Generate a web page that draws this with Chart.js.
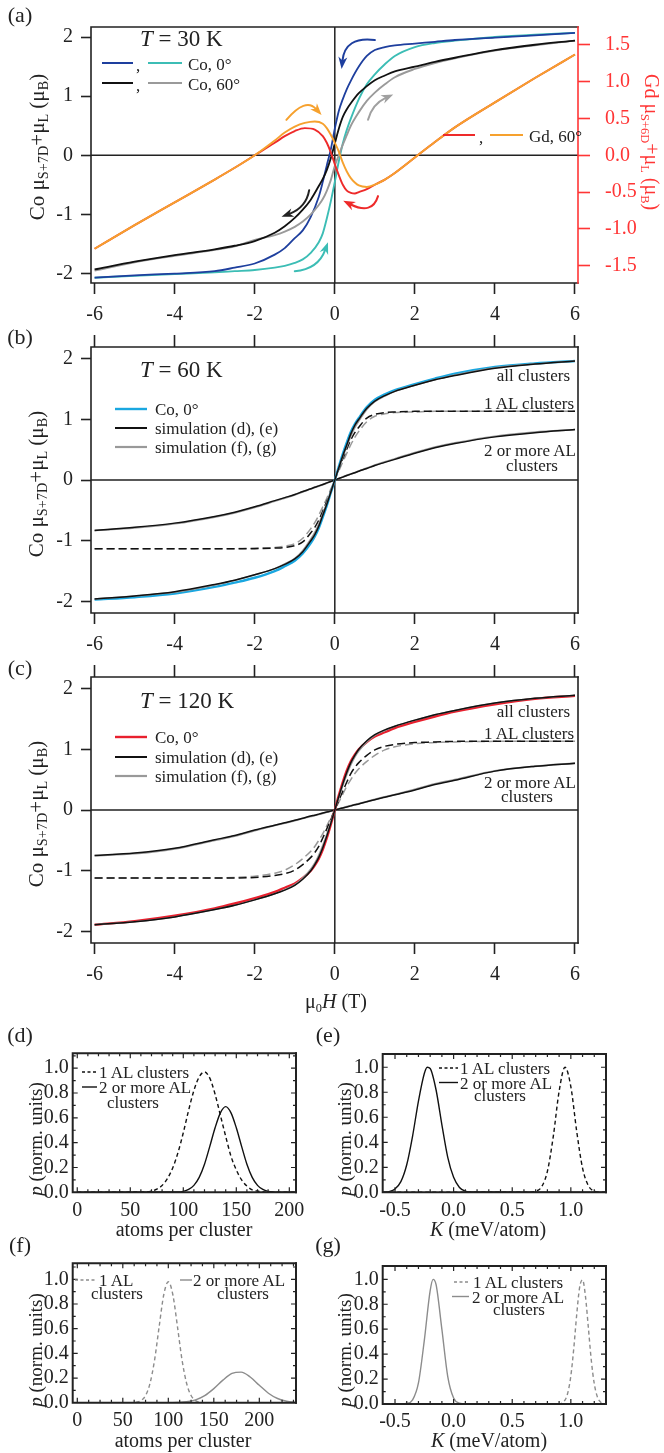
<!DOCTYPE html>
<html><head><meta charset="utf-8">
<script src="https://cdn.jsdelivr.net/npm/chart.js@4.4.1/dist/chart.umd.min.js"></script>
<style>
html,body{margin:0;padding:0;background:#fff;}
#page{position:relative;width:664px;height:1453px;overflow:hidden;font-family:'Liberation Serif','Times New Roman',serif;color:#222;background:#fff;}
#page canvas{position:absolute;left:0;top:0;}
.t{position:absolute;white-space:nowrap;line-height:1;}
.t sub{font-size:0.62em;vertical-align:-0.32em;line-height:0;}
.big sub{font-size:0.68em;}
#page svg{position:absolute;left:0;top:0;}
</style></head><body><div id="page"></div>
<script>
// ================= DATA =================
const fieldTicks=[-6,-4,-2,0,2,4,6];
const momentTicks=[-2,-1,0,1,2];
const gdTicks=[-1.5,-1,-0.5,0,0.5,1,1.5];
const pTicks=[0,0.2,0.4,0.6,0.8,1.0];
const pMinor=[0.1,0.3,0.5,0.7,0.9,1.1];
const atomTicks=[0,50,100,150,200];
const atomMinorD=[10,20,30,40,60,70,80,90,110,120,130,140,160,170,180,190];
const atomMinorF=[12.5,25,37.5,62.5,75,87.5,112.5,125,137.5,162.5,175,187.5,212.5,225,237.5];
const kTicks=[-0.5,0,0.5,1.0];
const kMinor=[-0.4,-0.3,-0.2,-0.1,0.1,0.2,0.3,0.4,0.6,0.7,0.8,0.9,1.1,1.2];

// (a) T = 30 K, Co (left axis)
const fieldA=[-6,-5,-4,-3,-2.5,-2,-1.5,-1.25,-1,-0.8,-0.6,-0.4,-0.3,-0.2,-0.1,0,0.1,0.2,0.3,0.4,0.6,0.8,1,1.25,1.5,2,2.5,3,4,5,6];
const coBlue0=[-2.07,-2.03,-2.0,-1.96,-1.9,-1.83,-1.68,-1.57,-1.4,-1.27,-1.04,-0.7,-0.45,-0.17,0.1,0.45,0.75,0.95,1.12,1.26,1.5,1.68,1.78,1.83,1.86,1.89,1.92,1.95,1.99,2.03,2.07];
const coTeal0=[-2.07,-2.04,-2.01,-1.98,-1.96,-1.94,-1.9,-1.87,-1.82,-1.76,-1.65,-1.47,-1.32,-1.07,-0.78,-0.45,-0.1,0.2,0.43,0.62,0.95,1.2,1.37,1.54,1.68,1.83,1.9,1.94,2.0,2.04,2.07];
const coBlack60=[-1.93,-1.8,-1.69,-1.59,-1.53,-1.45,-1.31,-1.2,-1.06,-0.92,-0.75,-0.52,-0.4,-0.25,-0.05,0.2,0.45,0.65,0.78,0.88,1.05,1.17,1.27,1.35,1.42,1.5,1.58,1.65,1.78,1.87,1.94];
const coGray60=[-1.95,-1.81,-1.7,-1.6,-1.54,-1.43,-1.35,-1.29,-1.21,-1.12,-1.0,-0.84,-0.74,-0.6,-0.42,-0.18,0.0,0.18,0.34,0.5,0.73,0.92,1.06,1.2,1.32,1.46,1.56,1.64,1.77,1.86,1.94];
// (a) Gd (right axis)
const fieldGd=[-6,-5,-4,-3,-2.5,-2,-1.5,-1.25,-1,-0.75,-0.5,-0.3,-0.2,-0.1,0,0.1,0.2,0.3,0.4,0.5,0.6,0.8,1,1.25,1.5,2,2.5,3,4,5,6];
const gdRed60=[-1.27,-0.95,-0.64,-0.33,-0.17,0.0,0.17,0.26,0.33,0.37,0.35,0.26,0.17,0.04,-0.12,-0.27,-0.4,-0.48,-0.51,-0.52,-0.5,-0.46,-0.4,-0.33,-0.24,-0.03,0.18,0.38,0.72,1.05,1.37];
const gdOrange60=[-1.27,-0.95,-0.64,-0.33,-0.17,0.0,0.2,0.31,0.39,0.44,0.46,0.43,0.37,0.28,0.17,0.05,-0.1,-0.22,-0.31,-0.37,-0.41,-0.43,-0.4,-0.33,-0.24,-0.03,0.18,0.38,0.72,1.05,1.37];

// (b),(c) field grid
const fieldBC=[-6,-5,-4,-3,-2.5,-2,-1.5,-1.25,-1,-0.8,-0.6,-0.5,-0.4,-0.3,-0.2,-0.1,0,0.1,0.2,0.3,0.4,0.5,0.6,0.8,1,1.25,1.5,2,2.5,3,4,5,6];
// (b) T = 60 K
const coData60K=[-1.97,-1.93,-1.87,-1.76,-1.69,-1.61,-1.5,-1.42,-1.33,-1.21,-1.04,-0.93,-0.79,-0.61,-0.42,-0.21,0,0.22,0.43,0.62,0.79,0.92,1.02,1.2,1.32,1.41,1.48,1.58,1.67,1.75,1.86,1.92,1.96];
const allDE60K=[-1.96,-1.91,-1.84,-1.72,-1.65,-1.56,-1.46,-1.39,-1.3,-1.18,-1.0,-0.9,-0.76,-0.58,-0.4,-0.2,0,0.2,0.4,0.58,0.76,0.9,1.0,1.18,1.3,1.39,1.46,1.56,1.65,1.72,1.84,1.91,1.96];
const allFG60K=[-1.96,-1.91,-1.85,-1.73,-1.65,-1.56,-1.46,-1.38,-1.29,-1.16,-0.97,-0.86,-0.72,-0.55,-0.38,-0.19,0,0.19,0.38,0.55,0.72,0.86,0.97,1.16,1.29,1.38,1.46,1.56,1.65,1.73,1.85,1.91,1.96];
const oneDE60K=[-1.13,-1.13,-1.13,-1.13,-1.13,-1.13,-1.12,-1.11,-1.08,-1.02,-0.87,-0.78,-0.66,-0.51,-0.35,-0.18,0,0.18,0.35,0.51,0.66,0.78,0.87,1.02,1.08,1.11,1.12,1.13,1.13,1.13,1.13,1.13,1.13];
const oneFG60K=[-1.13,-1.13,-1.13,-1.13,-1.13,-1.12,-1.11,-1.09,-1.05,-0.96,-0.8,-0.7,-0.58,-0.44,-0.3,-0.15,0,0.15,0.3,0.44,0.58,0.7,0.8,0.96,1.05,1.09,1.11,1.12,1.13,1.13,1.13,1.13,1.13];
const twoDE60K=[-0.83,-0.78,-0.71,-0.6,-0.53,-0.44,-0.34,-0.29,-0.24,-0.19,-0.145,-0.12,-0.097,-0.073,-0.048,-0.024,0,0.024,0.048,0.073,0.097,0.12,0.145,0.19,0.24,0.29,0.34,0.44,0.53,0.6,0.71,0.78,0.83];
const twoFG60K=[-0.83,-0.79,-0.72,-0.61,-0.54,-0.45,-0.35,-0.3,-0.245,-0.195,-0.148,-0.123,-0.1,-0.075,-0.05,-0.025,0,0.025,0.05,0.075,0.1,0.123,0.148,0.195,0.245,0.3,0.35,0.45,0.54,0.61,0.72,0.79,0.83];
// (c) T = 120 K
const coData120K=[-1.89,-1.83,-1.74,-1.62,-1.54,-1.45,-1.35,-1.28,-1.21,-1.12,-1.0,-0.91,-0.8,-0.65,-0.46,-0.24,0,0.24,0.46,0.65,0.8,0.91,1.0,1.12,1.21,1.28,1.35,1.45,1.54,1.62,1.74,1.83,1.88];
const allDE120K=[-1.89,-1.84,-1.76,-1.64,-1.57,-1.48,-1.38,-1.32,-1.24,-1.14,-1.0,-0.9,-0.78,-0.62,-0.43,-0.22,0,0.22,0.43,0.62,0.78,0.9,1.0,1.14,1.24,1.32,1.38,1.48,1.57,1.64,1.76,1.84,1.89];
const allFG120K=[-1.89,-1.84,-1.76,-1.64,-1.57,-1.48,-1.38,-1.31,-1.23,-1.12,-0.97,-0.87,-0.74,-0.58,-0.4,-0.2,0,0.2,0.4,0.58,0.74,0.87,0.97,1.12,1.23,1.31,1.38,1.48,1.57,1.64,1.76,1.84,1.89];
const oneDE120K=[-1.12,-1.12,-1.12,-1.12,-1.12,-1.11,-1.08,-1.05,-0.99,-0.9,-0.78,-0.7,-0.6,-0.46,-0.31,-0.16,0,0.16,0.31,0.46,0.6,0.7,0.78,0.9,0.99,1.05,1.08,1.11,1.12,1.13,1.13,1.13,1.13];
const oneFG120K=[-1.12,-1.12,-1.12,-1.12,-1.11,-1.09,-1.04,-0.99,-0.9,-0.8,-0.68,-0.6,-0.5,-0.39,-0.26,-0.13,0,0.13,0.26,0.39,0.5,0.6,0.68,0.8,0.9,0.99,1.04,1.09,1.11,1.12,1.13,1.13,1.13];
const twoDE120K=[-0.75,-0.71,-0.63,-0.49,-0.42,-0.33,-0.25,-0.21,-0.17,-0.135,-0.1,-0.085,-0.068,-0.051,-0.034,-0.017,0,0.017,0.034,0.051,0.068,0.085,0.1,0.135,0.17,0.21,0.25,0.33,0.42,0.49,0.64,0.72,0.77];
const twoFG120K=[-0.75,-0.72,-0.64,-0.5,-0.43,-0.34,-0.255,-0.215,-0.175,-0.14,-0.106,-0.09,-0.072,-0.054,-0.036,-0.018,0,0.018,0.036,0.054,0.072,0.09,0.106,0.14,0.175,0.215,0.255,0.34,0.43,0.5,0.645,0.72,0.77];

// (d) size distributions, simulation (d),(e)
const atomsD1=[0,65,70,75,80,85,90,95,100,105,110,115,120,125,130,135,140,145,150,155,160,165,170,175,180,206];
const pD1=[0,0.004,0.01,0.025,0.055,0.11,0.196,0.32,0.48,0.66,0.82,0.93,0.97,0.92,0.79,0.62,0.45,0.29,0.18,0.1,0.05,0.02,0.01,0.004,0,0];
const atomsD2=[0,95,100,105,110,115,120,125,130,135,140,145,150,155,160,165,170,175,180,185,190,206];
const pD2=[0,0.002,0.008,0.023,0.056,0.12,0.226,0.37,0.52,0.64,0.69,0.64,0.52,0.37,0.226,0.12,0.056,0.023,0.008,0.002,0,0];
// (e) anisotropy distributions
const kE1=[-0.6,0.65,0.7,0.75,0.8,0.85,0.9,0.95,1.0,1.05,1.1,1.15,1.2,1.25,1.3];
const pE1=[0,0.001,0.008,0.043,0.168,0.445,0.807,1.0,0.845,0.488,0.193,0.052,0.01,0.001,0];
const kE2=[-0.6,-0.55,-0.5,-0.45,-0.4,-0.35,-0.3,-0.25,-0.225,-0.2,-0.15,-0.1,-0.05,0,0.05,0.1,0.15,1.3];
const pE2=[0,0.006,0.027,0.085,0.22,0.45,0.73,0.95,1.0,0.99,0.82,0.54,0.28,0.12,0.039,0.01,0.002,0];
// (f) size distributions, simulation (f),(g)
const atomsF1=[-5,60,65,70,75,80,85,90,95,100,105,110,115,120,125,130,135,140,240];
const pF1=[0,0,0.004,0.017,0.058,0.16,0.35,0.62,0.875,0.98,0.875,0.62,0.35,0.16,0.058,0.017,0.004,0,0];
const atomsF2=[-5,100,110,120,130,140,150,160,170,180,190,200,210,220,230,240];
const pF2=[0,0,0.002,0.0075,0.023,0.057,0.114,0.183,0.237,0.248,0.208,0.141,0.077,0.034,0.012,0.003];
// (g) anisotropy distributions
const kG1=[-0.6,0.9,0.95,0.975,1.0,1.025,1.05,1.075,1.1,1.125,1.15,1.175,1.2,1.225,1.25,1.275,1.3];
const pG1=[0,0,0.031,0.093,0.225,0.445,0.716,0.936,0.996,0.862,0.607,0.347,0.162,0.061,0.019,0.005,0];
const kG2=[-0.6,-0.45,-0.4,-0.35,-0.3,-0.25,-0.2,-0.175,-0.15,-0.1,-0.05,0,0.05,0.1,1.3];
const pG2=[0,0,0.004,0.033,0.169,0.511,0.91,1.0,0.959,0.598,0.22,0.048,0.006,0,0];

// ================= RENDERING =================
const W=664,H=1453;
const page=document.getElementById('page');
Chart.defaults.font.family="'Liberation Serif','Times New Roman',serif";
Chart.defaults.font.size=20;
Chart.defaults.color='#222';

function mkCanvas(){const c=document.createElement('canvas');c.width=W;c.height=H;c.style.width=W+'px';c.style.height=H+'px';page.appendChild(c);return c.getContext('2d');}

function axis(o){
  const col=o.color||'#222';
  return {
    type:'linear',position:o.pos,min:o.min,max:o.max,
    afterBuildTicks:s=>{s.ticks=o.ticks.map(v=>({value:v}));},
    afterFit:s=>{if(s.isHorizontal())s.height=o.size;else s.width=o.size;},
    grid:{display:!!o.tl,drawOnChartArea:false,drawTicks:!!o.tl,tickLength:o.tl||0,tickWidth:1.6,tickColor:col,color:col},
    border:{display:false},
    ticks:{display:o.labels!==false,padding:o.pad||0,color:col,autoSkip:false,maxRotation:0,minRotation:0,
      font:{size:20},callback:o.fmt||(v=>String(v))}
  };
}

function drawArrow(ctx,xs,ys,ar){
  const P=ar.pts.map(p=>[xs.getPixelForValue(p[0]),ys.getPixelForValue(p[1])]);
  const p0=P[0],pm=P[1],p2=P[2];
  const c=[2*pm[0]-(p0[0]+p2[0])/2,2*pm[1]-(p0[1]+p2[1])/2];
  const ang=Math.atan2(p2[1]-c[1],p2[0]-c[0]);
  const L=12,Wd=4.5,co=Math.cos(ang),si=Math.sin(ang);
  ctx.strokeStyle=ar.color;ctx.fillStyle=ar.color;ctx.lineWidth=2;ctx.lineCap='round';
  ctx.beginPath();ctx.moveTo(p0[0],p0[1]);ctx.quadraticCurveTo(c[0],c[1],p2[0]-L*0.7*co,p2[1]-L*0.7*si);ctx.stroke();
  ctx.beginPath();ctx.moveTo(p2[0],p2[1]);
  ctx.lineTo(p2[0]-L*co+Wd*si,p2[1]-L*si-Wd*co);
  ctx.lineTo(p2[0]-L*0.7*co,p2[1]-L*0.7*si);
  ctx.lineTo(p2[0]-L*co-Wd*si,p2[1]-L*si+Wd*co);
  ctx.closePath();ctx.fill();
}

function makeFrame(cfg){
  return {
    id:'frame',
    beforeDatasetsDraw(chart){
      if(!cfg.zero)return;
      const {ctx,chartArea:a,scales}=chart;
      const x0=scales.x.getPixelForValue(0),y0=scales.y.getPixelForValue(0);
      ctx.save();ctx.strokeStyle='#222';ctx.lineWidth=1.5;
      ctx.beginPath();ctx.moveTo(a.left,y0);ctx.lineTo(a.right,y0);ctx.moveTo(x0,a.top);ctx.lineTo(x0,a.bottom);ctx.stroke();
      ctx.restore();
    },
    afterDatasetsDraw(chart){
      const {ctx,chartArea:a,scales}=chart;
      ctx.save();
      if(cfg.arrows)for(const ar of cfg.arrows)drawArrow(ctx,scales.x,scales.y,ar);
      ctx.lineWidth=cfg.lw||1.6;ctx.strokeStyle='#222';ctx.lineCap='square';
      ctx.beginPath();ctx.moveTo(a.right,a.top);ctx.lineTo(a.left,a.top);ctx.lineTo(a.left,a.bottom);ctx.lineTo(a.right,a.bottom);ctx.stroke();
      ctx.strokeStyle=cfg.rightColor||'#222';ctx.beginPath();ctx.moveTo(a.right,a.top);ctx.lineTo(a.right,a.bottom);ctx.stroke();
      if(cfg.inner){
        const I=cfg.inner;ctx.strokeStyle='#222';ctx.lineWidth=1.2;ctx.lineCap='butt';
        const tx=(vals,len)=>{for(const v of vals){const p=scales.x.getPixelForValue(v);if(p<a.left+1||p>a.right-1)continue;
          ctx.beginPath();ctx.moveTo(p,a.bottom);ctx.lineTo(p,a.bottom-len);ctx.moveTo(p,a.top);ctx.lineTo(p,a.top+len);ctx.stroke();}};
        const ty=(vals,len)=>{for(const v of vals){const p=scales.y.getPixelForValue(v);if(p<a.top+1||p>a.bottom-1)continue;
          ctx.beginPath();ctx.moveTo(a.left,p);ctx.lineTo(a.left+len,p);ctx.moveTo(a.right,p);ctx.lineTo(a.right-len,p);ctx.stroke();}};
        tx(I.xMajor,5);tx(I.xMinor,3);ty(I.yMajor,5);ty(I.yMinor,3);
      }
      ctx.restore();
    }
  };
}

function ds(xs,ys,color,o={}){
  return {data:xs.map((x,i)=>({x:x,y:ys[i]})),borderColor:color,borderWidth:o.w||1.6,borderDash:o.dash||[],
    pointRadius:0,fill:false,cubicInterpolationMode:'monotone',yAxisID:o.axis||'y',xAxisID:'x'};
}

function build(box,sc,datasets,fcfg){
  const ctx=mkCanvas();
  const lw=sc.y.size,bh=sc.x.size,rw=sc.y2?sc.y2.size:0,th=sc.x2?sc.x2.size:0;
  const padding={left:box.l-lw,top:box.t-th,right:W-box.r-rw,bottom:H-box.b-bh};
  const scales={};for(const k in sc)scales[k]=axis(sc[k]);
  return new Chart(ctx,{type:'line',data:{datasets:datasets},
    options:{responsive:false,animation:false,devicePixelRatio:1,events:[],
      layout:{padding:padding,autoPadding:false},scales:scales,
      plugins:{legend:{display:false},tooltip:{enabled:false}}},
    plugins:[makeFrame(fcfg)]});
}
const f1=v=>v.toFixed(1);

// ---------- (a) ----------
const arrowsA=[
  {color:'#1e3f9e',pts:[[1.0,1.95],[0.42,1.86],[0.17,1.46]]},
  {color:'#a0a0a0',pts:[[0.83,0.6],[1.04,0.84],[1.46,1.03]]},
  {color:'#ee2a2a',pts:[[1.08,-0.69],[0.79,-0.87],[0.21,-0.77]]},
  {color:'#f6a12e',pts:[[-1.21,0.6],[-0.75,0.81],[-0.33,0.68]]},
  {color:'#222222',pts:[[-0.64,-0.59],[-0.85,-0.85],[-1.33,-1.04]]},
  {color:'#3cbdb5',pts:[[-1.0,-1.96],[-0.5,-1.82],[-0.17,-1.47]]}
];
build({l:91,t:14,r:578,b:283},{
  x:{pos:'bottom',min:-6.09,max:6.075,ticks:fieldTicks,size:50,tl:11,pad:9},
  y:{pos:'left',min:-2.16,max:2.17,ticks:momentTicks,size:60,tl:10,pad:8},
  y2:{pos:'right',min:-1.736,max:1.744,ticks:gdTicks,size:60,tl:12,pad:15,color:'#ff3535',fmt:f1}
},[
  ds(fieldGd,gdOrange60,'#f6a12e',{axis:'y2',w:1.9}),
  ds(fieldGd,gdRed60,'#ee2a2a',{axis:'y2',w:1.9}),
  ds(fieldA,coBlack60,'#111111',{w:1.8}),
  ds(fieldA,coGray60,'#9a9a9a',{w:1.9}),
  ds(fieldA,coBlue0,'#1e3f9e',{w:1.8}),
  ds(fieldA,coTeal0,'#3cbdb5',{w:1.9})
],{zero:true,rightColor:'#ff3535',arrows:arrowsA});

// ---------- (b) ----------
build({l:91,t:347,r:578,b:613},{
  x:{pos:'bottom',min:-6.09,max:6.075,ticks:fieldTicks,size:50,tl:11,pad:9},
  x2:{pos:'top',min:-6.09,max:6.075,ticks:fieldTicks,size:14,tl:12,labels:false},
  y:{pos:'left',min:-2.19,max:2.19,ticks:momentTicks,size:60,tl:10,pad:8}
},[
  ds(fieldBC,allDE60K,'#111111',{w:1.5}),
  ds(fieldBC,allFG60K,'#999999',{w:1.5}),
  ds(fieldBC,coData60K,'#1aa7e0',{w:2.4}),
  ds(fieldBC,oneDE60K,'#111111',{w:1.5,dash:[8,4]}),
  ds(fieldBC,oneFG60K,'#999999',{w:1.5,dash:[8,4]}),
  ds(fieldBC,twoDE60K,'#111111',{w:1.5}),
  ds(fieldBC,twoFG60K,'#999999',{w:1.8})
],{zero:true});

// ---------- (c) ----------
build({l:91,t:677,r:578,b:943},{
  x:{pos:'bottom',min:-6.09,max:6.075,ticks:fieldTicks,size:50,tl:11,pad:9},
  x2:{pos:'top',min:-6.09,max:6.075,ticks:fieldTicks,size:14,tl:12,labels:false},
  y:{pos:'left',min:-2.19,max:2.19,ticks:momentTicks,size:60,tl:10,pad:8}
},[
  ds(fieldBC,allDE120K,'#111111',{w:1.5}),
  ds(fieldBC,allFG120K,'#999999',{w:1.5}),
  ds(fieldBC,coData120K,'#e8202e',{w:2.4}),
  ds(fieldBC,oneDE120K,'#111111',{w:1.5,dash:[8,4]}),
  ds(fieldBC,oneFG120K,'#999999',{w:1.5,dash:[8,4]}),
  ds(fieldBC,twoDE120K,'#111111',{w:1.5}),
  ds(fieldBC,twoFG120K,'#999999',{w:1.8})
],{zero:true});

// ---------- (d) ----------
build({l:72.7,t:1053.3,r:296,b:1192.3},{
  x:{pos:'bottom',min:-4.3,max:206.3,ticks:atomTicks,size:30,pad:6},
  y:{pos:'left',min:0,max:1.12,ticks:pTicks,size:40,pad:4,fmt:f1}
},[
  ds(atomsD1,pD1,'#111111',{w:1.4,dash:[4,3]}),
  ds(atomsD2,pD2,'#111111',{w:1.4})
],{lw:2,inner:{xMajor:atomTicks,xMinor:atomMinorD,yMajor:pTicks,yMinor:pMinor}});

// ---------- (e) ----------
build({l:382.7,t:1054,r:606,b:1192.3},{
  x:{pos:'bottom',min:-0.605,max:1.30,ticks:kTicks,size:30,pad:6,fmt:f1},
  y:{pos:'left',min:0,max:1.106,ticks:pTicks,size:40,pad:4,fmt:f1}
},[
  ds(kE1,pE1,'#111111',{w:1.4,dash:[4,3]}),
  ds(kE2,pE2,'#111111',{w:1.4})
],{lw:2,inner:{xMajor:kTicks,xMinor:kMinor,yMajor:pTicks,yMinor:pMinor}});

// ---------- (f) ----------
build({l:72.7,t:1263.3,r:296,b:1402.7},{
  x:{pos:'bottom',min:-5.05,max:240.3,ticks:atomTicks,size:30,pad:6},
  y:{pos:'left',min:0,max:1.13,ticks:pTicks,size:40,pad:4,fmt:f1}
},[
  ds(atomsF1,pF1,'#8c8c8c',{w:1.4,dash:[4,3]}),
  ds(atomsF2,pF2,'#8c8c8c',{w:1.4})
],{lw:2,inner:{xMajor:atomTicks,xMinor:atomMinorF,yMajor:pTicks,yMinor:pMinor}});

// ---------- (g) ----------
build({l:382.7,t:1266,r:606,b:1404},{
  x:{pos:'bottom',min:-0.605,max:1.30,ticks:kTicks,size:30,pad:6,fmt:f1},
  y:{pos:'left',min:0,max:1.107,ticks:pTicks,size:40,pad:4,fmt:f1}
},[
  ds(kG1,pG1,'#8c8c8c',{w:1.4,dash:[4,3]}),
  ds(kG2,pG2,'#8c8c8c',{w:1.4})
],{lw:2,inner:{xMajor:kTicks,xMinor:kMinor,yMajor:pTicks,yMinor:pMinor}});

// ================= TEXT & LEGEND OVERLAYS =================
function txt(html,x,y,o={}){
  const d=document.createElement('div');d.className='t'+(o.cls?' '+o.cls:'');d.innerHTML=html;
  d.style.left=x+'px';d.style.top=y+'px';d.style.fontSize=(o.size||17)+'px';
  if(o.color)d.style.color=o.color;
  const ax=o.align==='left'?'0':(o.align==='right'?'-100%':'-50%');
  d.style.transform='translate('+ax+',-50%)'+(o.rot?' rotate('+o.rot+'deg)':'');
  page.appendChild(d);
}
const NS='http://www.w3.org/2000/svg';
const svg=document.createElementNS(NS,'svg');svg.setAttribute('width',W);svg.setAttribute('height',H);page.appendChild(svg);
function seg(x1,x2,y,color,w,dash){
  const l=document.createElementNS(NS,'line');
  l.setAttribute('x1',x1);l.setAttribute('x2',x2);l.setAttribute('y1',y);l.setAttribute('y2',y);
  l.setAttribute('stroke',color);l.setAttribute('stroke-width',w||2);
  if(dash)l.setAttribute('stroke-dasharray',dash);
  svg.appendChild(l);
}
// panel letters
txt('(a)',20,15,{size:22});txt('(b)',20,337,{size:22});txt('(c)',20,668,{size:22});
txt('(d)',20,1035,{size:22});txt('(e)',328,1035,{size:22});
txt('(f)',20,1245,{size:22});txt('(g)',328,1245,{size:22});

const coTitle='Co μ<sub>S+7D</sub>+μ<sub>L</sub> (μ<sub>B</sub>)';
txt(coTitle,37,147,{size:21,rot:-90,cls:'big'});
txt(coTitle,36,484,{size:21,rot:-90,cls:'big'});
txt(coTitle,36,814,{size:21,rot:-90,cls:'big'});
txt('Gd μ<sub>S+6D</sub>+μ<sub>L</sub> (μ<sub>B</sub>)',652,142,{size:20,rot:90,color:'#ff3535'});
txt('μ<sub>0</sub><i>H</i> (T)',336,1001,{size:20});

// (a) annotations
txt('<i>T</i> = 30 K',140,38,{size:23,align:'left'});
seg(102,133,63,'#1e3f9e',2);txt(',',136,65,{align:'left'});seg(148,182,63,'#3cbdb5',2);txt('Co, 0°',188,64,{align:'left'});
seg(102,133,83,'#111',2);txt(',',136,85,{align:'left'});seg(148,182,83,'#9a9a9a',2);txt('Co, 60°',188,84,{align:'left'});
seg(443,475,135,'#ee2a2a',2);txt(',',479,137,{align:'left'});seg(490,523,135,'#f6a12e',2);txt('Gd, 60°',529,136,{align:'left'});

// (b) annotations
txt('<i>T</i> = 60 K',140,369,{size:23,align:'left'});
seg(115,147,409,'#1aa7e0',2.4);txt('Co, 0°',155,409,{align:'left'});
seg(115,147,428,'#111',2);txt('simulation (d), (e)',155,428,{align:'left'});
seg(115,147,447,'#999',2.2);txt('simulation (f), (g)',155,447,{align:'left'});
txt('all clusters',570,375,{align:'right'});
txt('1 AL clusters',574,403,{align:'right'});
txt('2 or more AL',576,450,{align:'right'});
txt('clusters',532,465);

// (c) annotations
txt('<i>T</i> = 120 K',140,700,{size:23,align:'left'});
seg(115,147,737,'#e8202e',2.4);txt('Co, 0°',155,737,{align:'left'});
seg(115,147,757,'#111',2);txt('simulation (d), (e)',155,757,{align:'left'});
seg(115,147,776,'#999',2.2);txt('simulation (f), (g)',155,776,{align:'left'});
txt('all clusters',570,711,{align:'right'});
txt('1 AL clusters',574,733,{align:'right'});
txt('2 or more AL',576,782,{align:'right'});
txt('clusters',527,796);

// small panels: axis titles
const pTitle='<i>p</i> (norm. units)';
txt(pTitle,35,1139,{size:19,rot:-90});txt(pTitle,344,1139,{size:19,rot:-90});
txt(pTitle,35,1350,{size:19,rot:-90});txt(pTitle,344,1350,{size:19,rot:-90});
txt('atoms per cluster',184,1229,{size:20});txt('<i>K</i> (meV/atom)',488,1229,{size:20});
txt('atoms per cluster',183,1440,{size:20});txt('<i>K</i> (meV/atom)',489,1440,{size:20});

// small panels: legends
seg(82,97,1072,'#111',1.4,'3 2.5');txt('1 AL clusters',99,1072,{align:'left'});
seg(82,97,1087,'#111',1.4);txt('2 or more AL',99,1087,{align:'left'});txt('clusters',133,1102);
seg(439,458,1068,'#111',1.4,'3 2.5');txt('1 AL clusters',460,1068,{align:'left'});
seg(439,458,1082.5,'#111',1.4);txt('2 or more AL',460,1082.5,{align:'left'});txt('clusters',500,1095);
seg(75,97,1280,'#8c8c8c',1.4,'3 2.5');txt('1 AL',99,1280,{align:'left'});txt('clusters',117,1293);
seg(180,192,1280,'#8c8c8c',1.4);txt('2 or more AL',193,1280,{align:'left'});txt('clusters',243,1293);
seg(454,470,1282,'#8c8c8c',1.4,'3 2.5');txt('1 AL clusters',473,1282,{align:'left'});
seg(452,469,1296.5,'#8c8c8c',1.4);txt('2 or more AL',472,1296.5,{align:'left'});txt('clusters',519,1309);
</script></body></html>
